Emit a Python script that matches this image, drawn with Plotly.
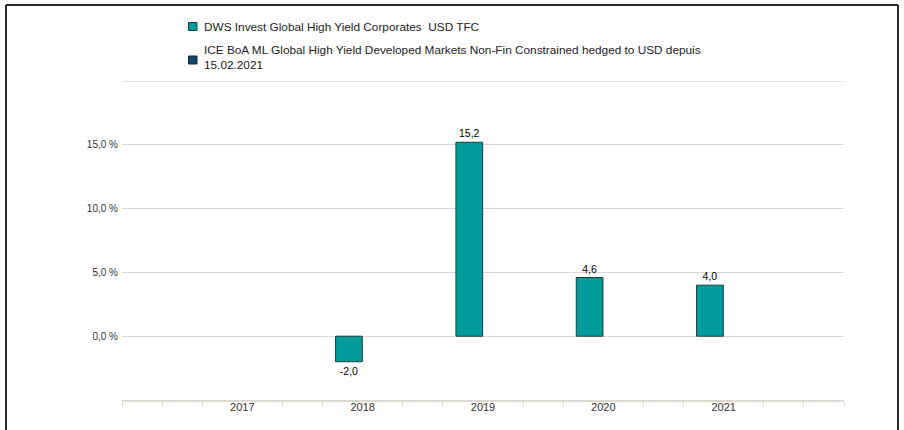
import plotly.graph_objects as go

# ---- data ----
categories = ["2017", "2018", "2019", "2020", "2021"]
fund_name = "DWS Invest Global High Yield Corporates  USD TFC"
bench_name = "ICE BoA ML Global High Yield Developed Markets Non-Fin Constrained hedged to USD depuis<br>15.02.2021"
fund_values = [None, -2.0, 15.2, 4.6, 4.0]
bench_values = [None, None, None, None, None]
y_ticks = [0, 5, 10, 15, 20]
y_tick_labels = ["0,0 %", "5,0 %", "10,0 %", "15,0 %", ""]
y_max = 20

FUND_COLOR = "#009b9b"
BENCH_COLOR = "#0b4a6c"
GRID = "#dcd8cf"
FONT = "Liberation Sans"

W, H = 904, 430
ML, MR, MT, MB = 122, 60, 81, 30
PW, PH = W - ML - MR, H - MT - MB


def px_x(p):
    return (p - ML) / PW


def px_y(p):
    return (H - MB - p) / PH


xpos = list(range(len(categories)))
fund_text = ["" if v is None else f"{v:.1f}".replace(".", ",") for v in fund_values]

fig = go.Figure()
fig.add_trace(go.Bar(
    x=xpos, y=fund_values, name=fund_name,
    width=0.222, offset=-0.225,
    marker=dict(color=FUND_COLOR, line=dict(color="#1d3b3b", width=1)),
    text=fund_text, textposition="outside", constraintext="none",
    textfont=dict(family=FONT, size=10.5, color="#000000"),
    cliponaxis=False, showlegend=False,
))
fig.add_trace(go.Bar(
    x=xpos, y=bench_values, name=bench_name,
    width=0.222, offset=0.003,
    marker=dict(color=BENCH_COLOR, line=dict(color="#222222", width=1)),
    showlegend=False,
))

fig.update_layout(
    width=W, height=H,
    margin=dict(l=ML, r=MR, t=MT, b=MB),
    paper_bgcolor="white", plot_bgcolor="white",
    font=dict(family=FONT, size=10, color="#333333"),
    barmode="overlay",
    showlegend=False,
)

fig.update_xaxes(
    type="linear", range=[-1, 5],
    tickvals=xpos, ticktext=categories,
    ticks="outside", ticklen=0, ticklabelstandoff=-4,
    tickfont=dict(family=FONT, size=11, color="#333333"),
    showgrid=False, zeroline=False,
    showline=True, linecolor=GRID, linewidth=2,
    minor=dict(tick0=-1, dtick=1 / 3, ticks="outside", ticklen=5,
               tickcolor=GRID, tickwidth=1, showgrid=False),
)
fig.update_yaxes(
    range=[-5, y_max],
    tickvals=y_ticks, ticktext=y_tick_labels,
    tickfont=dict(family=FONT, size=10, color="#333333"),
    showgrid=True, gridcolor=GRID, gridwidth=1,
    zeroline=False, showline=False, ticks="", ticklabelstandoff=3,
)

shapes = []
annotations = []
# top grid line (at range edge)
shapes.append(dict(type="line", xref="paper", yref="y", x0=0, x1=1, y0=y_max, y1=y_max,
                   line=dict(color=GRID, width=1.5)))

# manual legend
legend_items = [
    (fund_name, FUND_COLOR, "#1d3b3b", 26.5, 26.5),
    (bench_name, BENCH_COLOR, "#222222", 60, 58),
]
for name, col, lcol, sq_c, txt_c in legend_items:
    shapes.append(dict(type="rect", xref="paper", yref="paper",
                       x0=px_x(188.5), x1=px_x(197), y0=px_y(sq_c + 4), y1=px_y(sq_c - 4),
                       fillcolor=col, line=dict(color=lcol, width=1)))
    annotations.append(dict(xref="paper", yref="paper", x=px_x(202), y=px_y(txt_c),
                            xanchor="left", yanchor="middle", align="left",
                            text=name, showarrow=False,
                            font=dict(family=FONT, size=11.8, color="#222222")))

# frame
for x0, y0, x1, y1 in [(6, 430, 6, 5), (6, 5, 898, 5), (898, 5, 898, 430)]:
    shapes.append(dict(type="line", xref="paper", yref="paper",
                       x0=px_x(x0), x1=px_x(x1), y0=px_y(y0), y1=px_y(y1),
                       line=dict(color="#2a2a2a", width=2)))

fig.update_layout(shapes=shapes, annotations=annotations)
fig.write_html("out.html", config={"displayModeBar": False},
               post_script="document.body.style.margin='0';document.body.style.overflow='hidden';")
